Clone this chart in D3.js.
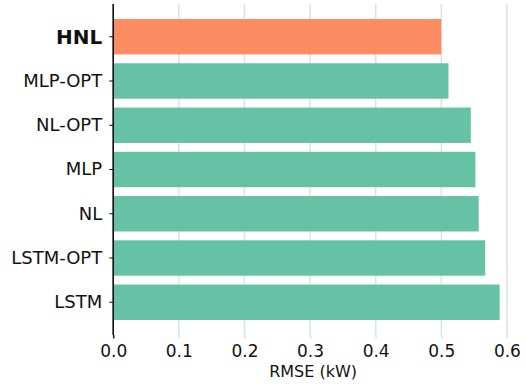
<!DOCTYPE html>
<html>
<head>
<meta charset="utf-8">
<script src="https://cdn.jsdelivr.net/npm/d3@7"></script>
<style>
  html, body { margin: 0; padding: 0; background: #ffffff; }
  svg { display: block; }
</style>
</head>
<body>
<svg id="chart" width="526" height="386"></svg>
<script>
// Model names, top to bottom
const models = ["HNL", "MLP-OPT", "NL-OPT", "MLP", "NL", "LSTM-OPT", "LSTM"];
// RMSE per model (kW)
const rmse = [0.500, 0.511, 0.545, 0.552, 0.557, 0.567, 0.589];
// Highlighted model
const highlight = "HNL";
const xTicks = [0.0, 0.1, 0.2, 0.3, 0.4, 0.5, 0.6];
const xLabel = "RMSE (kW)";

const W = 526, H = 386;
const margin = { left: 113.2, right: 7, top: 4, bottom: 51 };
const plotW = W - margin.left - margin.right;
const plotH = H - margin.top - margin.bottom;

const svg = d3.select("#chart");
const g = svg.append("g").attr("transform", `translate(${margin.left},${margin.top})`);

const x = d3.scaleLinear()
  .domain([0, d3.max(rmse) * 1.05])
  .range([0, plotW]);

const y = d3.scaleBand()
  .domain(models)
  .range([0, plotH])
  .paddingInner(0.2)
  .paddingOuter(0.34);

const font = "'DejaVu Sans', sans-serif";
const gridColor = "#dde3ea";

// vertical gridlines
g.append("g")
  .selectAll("line")
  .data(xTicks)
  .join("line")
  .attr("x1", d => x(d)).attr("x2", d => x(d))
  .attr("y1", 0).attr("y2", plotH)
  .attr("stroke", gridColor)
  .attr("stroke-width", 1.6);

// bars
g.append("g")
  .selectAll("rect")
  .data(models)
  .join("rect")
  .attr("x", x(0))
  .attr("y", d => y(d))
  .attr("height", y.bandwidth())
  .attr("width", (d, i) => x(rmse[i]) - x(0))
  .attr("fill", d => d === highlight ? "#fc8d62" : "#66c2a5");

// bottom axis
const xAxis = g.append("g")
  .attr("transform", `translate(0,${plotH})`)
  .call(d3.axisBottom(x).tickValues(xTicks).tickFormat(d3.format(".1f")).tickSize(3.5).tickPadding(6.4));
xAxis.select(".domain").remove();
xAxis.selectAll(".tick line").attr("stroke", (d) => d === 0 ? "#222" : gridColor).attr("stroke-width", 1.6);
xAxis.selectAll(".tick text")
  .attr("font-family", font).attr("font-size", 17).attr("fill", "#111");

// left axis
const yAxis = g.append("g")
  .call(d3.axisLeft(y).tickSize(4).tickPadding(7));
yAxis.select(".domain").remove();
yAxis.selectAll(".tick line").attr("stroke", "#111").attr("stroke-width", 1);
yAxis.selectAll(".tick text")
  .attr("font-family", font)
  .attr("fill", "#111")
  .attr("font-size", d => d === highlight ? 20 : 18)
  .attr("font-weight", d => d === highlight ? "bold" : "normal")
  .attr("dy", d => d === highlight ? "0.36em" : "0.32em");

// left spine
g.append("line")
  .attr("x1", 0).attr("x2", 0)
  .attr("y1", 0).attr("y2", plotH)
  .attr("stroke", "#111")
  .attr("stroke-width", 1.6);

// axis title
g.append("text")
  .attr("x", plotW / 2 - 3)
  .attr("y", plotH + 41.7)
  .attr("text-anchor", "middle")
  .attr("font-family", font)
  .attr("font-size", 16)
  .attr("fill", "#111")
  .text(xLabel);
</script>
</body>
</html>
